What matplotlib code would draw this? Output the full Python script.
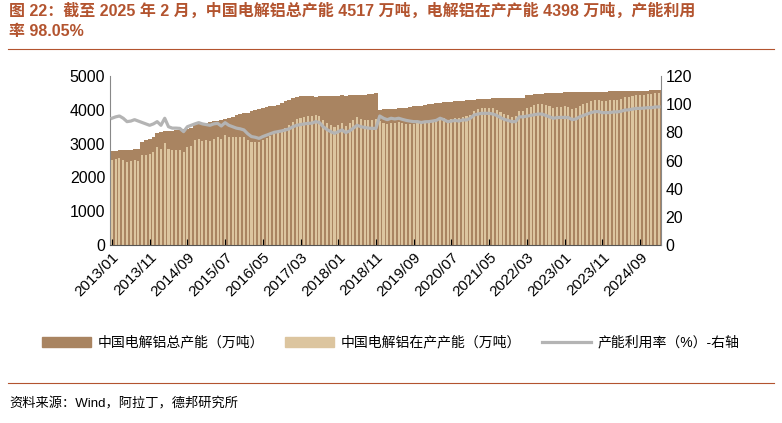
import matplotlib
matplotlib.use("Agg")
import matplotlib.pyplot as plt
from matplotlib.lines import Line2D
from matplotlib.patches import Patch
import numpy as np

plt.rcParams["font.family"] = ["Liberation Sans", "Noto Sans CJK SC", "DejaVu Sans"]

total = [2790,2790,2800,2800,2810,2820,2830,2840,
         3060,3100,3150,3200,3300,3350,
         3360,3370,3380,3400,3400,3420,3430,3450,3600,
         3600,3610,3620,3640,3660,3680,3700,3720,3750,
         3800,3850,3880,3900,3920,3960,4000,
         4020,4050,4080,4100,4120,4150,4190,
         4250,4300,4350,4390,
         4400,4400,4410,4400,4390,4400,4410,4420,4400,4410,4420,4430,4420,4430,4440,4450,4440,4450,4460,4480,4490,
         4000,4010,4020,4020,4030,4040,4043,
         4060,4080,4100,4110,4120,4140,4160,4170,4190,
         4200,4220,4230,4240,4250,4260,4270,4280,4290,
         4300,4310,4320,4330,4330,4340,4340,4340,4340,4340,4340,4345,4345,4345,
         4440,4450,4460,4470,4480,4490,4500,4500,4510,4510,4520,4520,
         4520,4520,4530,4530,4530,4530,4540,4540,4540,4540,4550,4550,4550,4550,4560,4560,4560,4560,4570,4570,4570,4575,4580,4580]

operating = [2510,2540,2565,2520,2460,2480,2520,2500,2660,2670,
             2680,2750,2890,2850,3020,2830,2810,2820,2820,2750,
             2900,2930,3100,3130,3090,3100,3090,3150,3190,3150,
             3260,3190,3190,3190,3200,3200,3100,3050,3060,3040,
             3120,3160,3220,3280,3320,3360,3470,3550,3650,3730,
             3760,3780,3810,3810,3850,3830,3700,3620,3540,3500,
             3560,3620,3530,3600,3690,3780,3730,3710,3710,3710,
             3720,3660,3610,3580,3620,3610,3640,3610,3590,3590,
             3590,3600,3600,3630,3640,3670,3710,3780,3760,3710,
             3740,3770,3760,3800,3810,3860,3970,4020,4040,4050,
             4050,4040,3990,3930,3870,3840,3800,3810,3960,3960,
             4060,4090,4130,4160,4170,4130,4100,4050,4080,4090,
             4100,4090,4020,4050,4120,4160,4210,4260,4300,4300,
             4270,4270,4280,4300,4300,4320,4370,4380,4400,4430,
             4430,4440,4460,4470,4490,4490]

utilization = [90,91,91.6,90,87.6,88,89,88,87,86,
               85,86,87.6,85,90,84,83,83,82.8,80.5,
               84,85,86,86.9,86,85.5,85,86,86.4,84.5,
               86.9,85,84,83,82.5,81.7,79,77,76.5,75.7,
               77,78,79,80,80.5,81,81.7,82.5,84,85,
               85.5,86,86.4,86.5,87.6,87,84,82,80.5,79.3,
               80.5,81.7,79.8,81,83,85,84,83.5,83,82.8,
               82.8,91.6,90,89,90,89.5,90,89.2,88.5,88,
               87.6,87.6,87,87.5,87.6,88,88.5,90,89,87.6,
               88,88.5,88,88.8,88.8,90,92.3,93,93.5,93.5,
               93.5,93,92,90.5,89.2,88.5,87.6,87.6,91,91,
               91.5,92,92.5,93,93,92,91,90,90.5,90.6,
               90.6,90.5,89,89.5,91,92,93,94,94.7,94.7,
               94,94,94,94.5,94.5,95,95.8,96,96.5,97,
               97,97.2,97.5,97.5,98,98.05]

months = []
y, m = 2013, 1
for _ in range(len(total)):
    months.append(f"{y}/{m:02d}")
    m += 1
    if m > 12:
        y, m = y + 1, 1

title = "图 22：截至 2025 年 2 月，中国电解铝总产能 4517 万吨，电解铝在产产能 4398 万吨，产能利用\n率 98.05%"
source = "资料来源：Wind，阿拉丁，德邦研究所"

brown = "#A98461"
beige = "#DCC59F"
grey = "#B4B4B4"
tcol = "#B3542F"

fig = plt.figure(figsize=(7.82, 4.23), dpi=100)
fig.text(0.012, 0.995, title, fontsize=11.5, fontweight="bold", color=tcol,
         va="top", ha="left", linespacing=1.45)
fig.add_artist(Line2D([0.01, 0.99], [0.885, 0.885], color=tcol, lw=0.8))
fig.add_artist(Line2D([0.01, 0.99], [0.095, 0.095], color=tcol, lw=0.8))
fig.text(0.012, 0.045, source, fontsize=9.5, va="center", ha="left")

ax = fig.add_axes([0.1407, 0.4208, 0.7043, 0.3995])
x = np.arange(len(total))
ax.bar(x, total, width=1.0, color=brown, linewidth=0)
ax.bar(x, operating, width=0.55, color=beige, linewidth=0)
ax.set_xlim(-0.5, len(total) - 0.5)
ax.set_ylim(0, 5000)
ax.set_yticks(range(0, 5001, 1000))
ticks = list(range(0, len(total), 10))
ax.set_xticks(ticks)
ax.set_xticklabels([months[i] for i in ticks], rotation=45, ha="right",
                   rotation_mode="anchor", fontsize=11)
ax.tick_params(axis="y", labelsize=11.5, length=0)
ax.tick_params(axis="x", length=4, direction="in")
for s in ["top", "right"]:
    ax.spines[s].set_visible(False)
ax.spines["left"].set_color("#888888")
ax.spines["bottom"].set_color("#555555")

ax2 = ax.twinx()
ax2.plot(x, utilization, color=grey, lw=2.3)
ax2.set_ylim(0, 120)
ax2.set_yticks(range(0, 121, 20))
ax2.tick_params(axis="y", labelsize=11.5, length=0)
for s in ["top", "left", "bottom"]:
    ax2.spines[s].set_visible(False)
ax2.spines["right"].set_color("#888888")

handles = [Patch(color=brown), Patch(color=beige), Line2D([], [], color=grey, lw=2.3)]
labels = ["中国电解铝总产能（万吨）", "中国电解铝在产产能（万吨）", "产能利用率（%）-右轴"]
fig.legend(handles, labels, loc="center", bbox_to_anchor=(0.5, 0.19), ncol=3,
           frameon=False, fontsize=10, handlelength=3.5, columnspacing=1.5,
           handletextpad=0.5)

fig.savefig("out.png", dpi=100)
